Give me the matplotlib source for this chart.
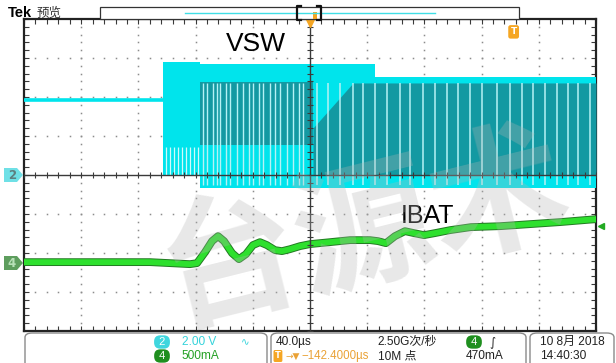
import numpy as np
import matplotlib
matplotlib.use("Agg")
import matplotlib.pyplot as plt
import matplotlib.patheffects as pe
from matplotlib.patches import FancyBboxPatch, Polygon, Rectangle

W, H = 616, 363

# ---- data (time in us, 40 us/div) ----
# CH2 VSW: 2.00 V/div, ground on the centre line
vsw_idle_t = [-200.0, -102.8]
vsw_idle_v = [3.85, 3.85]
env_t = [-102.8, -76.9, 45.5, 200.0]          # switching envelope
env_hi = [5.79, 5.69, 5.03, 5.03]
env_lo = [0.0, -0.67, -0.67, -0.67]
band_a_top = 1.44                             # soft-start, lower striped part
dark_a_t = [-76.9, 2.1]                       # dense overlap area (darker)
dark_a_top = [4.75, 4.75]
dark_a_bot = [1.54, 1.54]
dark_b_t = [2.1, 30.1, 200.0]
dark_b_top = [2.41, 4.72, 4.72]
dark_b_bot = [0.0, 0.0, 0.0]
gaps_a = [-100.7, -97.9, -95.1, -92.3, -89.5, -86.7, -83.9, -81.1, -78.3]
gaps_b = [-74.5, -72.0, -67.8, -65.0, -62.9, -58.5, -55.9, -51.0, -46.9,
          -43.0, -39.9, -36.0, -32.9, -28.0, -24.5, -21.0, -16.1, -11.9,
          -8.0, -4.9]
gaps_c = [4.9, 12.6, 21.0, 30.1, 37.1, 45.5, 53.8, 62.9, 69.9, 79.0, 87.4,
          95.8, 103.5, 111.9, 120.3, 130.8, 139.9, 148.3, 156.0, 164.4,
          172.8, 180.4, 187.4, 195.8]

# CH4 IBAT: 500 mA/div, ground marker 2.26 div below centre
ch4_offset = -2.26
ibat_t = [-200.0, -146.9, -111.9, -97.9, -83.9, -79.0, -73.4, -68.5, -64.3,
          -60.1, -54.5, -49.7, -44.8, -39.9, -35.0, -30.1, -24.5, -19.6,
          -14.0, -7.0, 0.0, 14.0, 28.0, 42.0, 47.6, 53.1, 59.4, 66.4, 72.7,
          79.7, 87.4, 97.9, 112.6, 132.9, 153.8, 174.8, 200.0]
ibat_ma = [13, 13, 13, 0, -13, 0, 141, 282, 346, 282, 128, 51, 115, 231,
           269, 231, 167, 154, 179, 218, 244, 269, 295, 295, 282, 256, 346,
           410, 385, 359, 385, 423, 462, 474, 500, 526, 564]
trig_ma = 470
trig_pos_us = 142.4

CYAN = "#00e4ec"
TEAL = "#1399a2"
GREEN = "#2ee02e"
ORANGE = "#f5a623"


def fx(x):
    return x / W


def fy(y):
    return 1 - y / H


fig = plt.figure(figsize=(W / 100, H / 100), dpi=100)
fig.patch.set_facecolor("white")
ax = fig.add_axes([fx(24), fy(331), 572 / W, 312 / H])
ax.set_facecolor("white")
ax.set_xlim(-200, 200)
ax.set_ylim(-4, 4)

# graticule: dotted grid, centre cross with ticks, border ticks
xmin = np.arange(-200, 201, 8)
ymin = np.arange(-4, 4.01, 0.2)
for xv in range(-160, 200, 40):
    if xv != 0:
        ax.plot([xv] * len(ymin), ymin, ls="none", marker="s", ms=1.1, mew=0,
                color="#8c8c8c", zorder=1)
for yv in range(-3, 4):
    if yv != 0:
        ax.plot(xmin, [yv] * len(xmin), ls="none", marker="s", ms=1.1, mew=0,
                color="#8c8c8c", zorder=1)
ax.axvline(0, color="#3a3a3a", lw=1.0, zorder=6)
ax.axhline(0, color="#3a3a3a", lw=1.0, zorder=6)
ax.plot(xmin, np.zeros_like(xmin), ls="none", marker="|", ms=5, mew=0.8,
        color="#3a3a3a", zorder=6)
ax.plot(np.zeros_like(ymin), ymin, ls="none", marker="_", ms=5, mew=0.8,
        color="#3a3a3a", zorder=6)
ax.set_xticks(np.arange(-200, 201, 40))
ax.set_xticks(xmin, minor=True)
ax.set_yticks(np.arange(-4, 5, 1))
ax.set_yticks(ymin, minor=True)
ax.tick_params(which="both", direction="in", length=3.5, width=0.8,
               color="#3a3a3a", top=True, right=True, labelbottom=False,
               labelleft=False)
for s in ax.spines.values():
    s.set_linewidth(1.6)
    s.set_color("#222222")

# VSW
ax.plot(vsw_idle_t, np.array(vsw_idle_v) / 2, color=CYAN, lw=2.6,
        solid_capstyle="butt", zorder=3)
ax.fill_between(env_t, np.array(env_hi) / 2, np.array(env_lo) / 2,
                step="post", color=CYAN, lw=0, zorder=3)
ax.fill_between(dark_a_t, np.array(dark_a_top) / 2, np.array(dark_a_bot) / 2,
                color=TEAL, lw=0, zorder=3)
ax.fill_between(dark_b_t, np.array(dark_b_top) / 2, np.array(dark_b_bot) / 2,
                color=TEAL, lw=0, zorder=3)
ax.vlines(gaps_a, 0.0, band_a_top / 2, color="#d0fafb", lw=0.9, zorder=4)
ax.vlines(gaps_b, -0.5 / 2, 4.7 / 2, color="#b5f2f5", lw=1.0, zorder=4)
ax.vlines(gaps_c, -0.5 / 2, 4.7 / 2, color="#b5f2f5", lw=1.1, zorder=4)

# IBAT
ax.plot(ibat_t, np.array(ibat_ma) / 500 + ch4_offset, color=GREEN, lw=4.2,
        zorder=5, solid_joinstyle="round",
        path_effects=[pe.Stroke(linewidth=5.6, foreground="#237a23"),
                      pe.Normal()])

ax.text(-38, (175 - 43.5) / 39, "VSW", fontsize=19, family="Liberation Sans",
        ha="center", va="center", zorder=7)
ax.text(82.4, (175 - 216) / 39, "IBAT", fontsize=18, family="Liberation Sans",
        ha="center", va="center", zorder=7)

# trigger markers
ax.plot(0, 3.93, marker="v", ms=7, color=ORANGE, clip_on=False, zorder=8)
ax.text(trig_pos_us, 3.67, "T", fontsize=6.5, color="white", weight="bold",
        ha="center", va="center", zorder=8,
        bbox=dict(boxstyle="round,pad=0.25", fc=ORANGE, ec="none"))
ax.plot(203.5, trig_ma / 500 + ch4_offset, marker="<", ms=4.5,
        color="#22aa22", clip_on=False, zorder=8)

# watermark
fig.text(fx(365), fy(232), "台源术", fontsize=100, color="#b4b4b4", alpha=0.3,
         family=["Noto Sans CJK SC"], weight="bold", rotation=14,
         ha="center", va="center", zorder=10)

# channel markers on the left
fig.patches.append(Polygon([(fx(4), fy(168)), (fx(17), fy(168)),
                            (fx(23), fy(175)), (fx(17), fy(182)),
                            (fx(4), fy(182))], closed=True,
                           transform=fig.transFigure, fc="#6fe0e6", ec="none"))
fig.text(fx(12), fy(175.5), "2", fontsize=8.5, color="#5d7f80",
         weight="bold", ha="center", va="center")
fig.patches.append(Polygon([(fx(4), fy(256)), (fx(17), fy(256)),
                            (fx(23), fy(263)), (fx(17), fy(270)),
                            (fx(4), fy(270))], closed=True,
                           transform=fig.transFigure, fc="#5e9e5e", ec="none"))
fig.text(fx(12), fy(263.5), "4", fontsize=8.5, color="#b8e0b8",
         weight="bold", ha="center", va="center")

# top bar
fig.text(fx(8), fy(13), "Tek", fontsize=10.5, weight="bold",
         family="Liberation Sans", va="center")
fig.text(fx(37), fy(13), "预览", fontsize=9, color="#333333",
         family=["Noto Sans CJK SC"], va="center")
fig.patches.append(Rectangle((fx(100), fy(19)), (519 - 100) / W, 12 / H,
                             transform=fig.transFigure, fc="white",
                             ec="#333333", lw=0.9))
fig.lines.append(plt.Line2D([fx(185), fx(435)], [fy(13), fy(13)],
                            transform=fig.transFigure, color="#40dfe6",
                            lw=1.0))
for xb, d in [(297, 4), (321, -4)]:
    fig.lines.append(plt.Line2D([fx(xb + d), fx(xb), fx(xb), fx(xb + d)],
                                [fy(6), fy(6), fy(20), fy(20)],
                                transform=fig.transFigure, color="#111111",
                                lw=1.6))
fig.patches.append(Rectangle((fx(313), fy(19)), 4 / W, 7 / H,
                             transform=fig.transFigure, fc=ORANGE, ec="none"))

# bottom status boxes
for x0, x1 in [(25, 267), (271, 526), (530, 614)]:
    fig.patches.append(FancyBboxPatch((fx(x0), fy(368)), (x1 - x0) / W,
                                      35 / H,
                                      boxstyle="round,pad=0,rounding_size=0.012",
                                      transform=fig.transFigure, fc="white",
                                      ec="#8a8a8a", lw=1.0))

TXT = ["Liberation Sans", "Noto Sans CJK SC", "DejaVu Sans"]
FS = 8.6
r1, r2 = 342, 356


def badge(x, y, s, fc):
    fig.text(fx(x), fy(y), s, fontsize=8, color="white", ha="center",
             va="center", family=TXT,
             bbox=dict(boxstyle="round,pad=0.15,rounding_size=0.55", fc=fc,
                       ec="none"))


badge(162, r1, " 2 ", "#3fd6de")
badge(162, r2, " 4 ", "#1f8f1f")
fig.text(fx(182), fy(r1), "2.00 V", fontsize=FS, color="#35d3db",
         family=TXT, va="center")
fig.text(fx(182), fy(r2), "500mA", fontsize=FS, color="#24a024",
         family=TXT, va="center")
fig.text(fx(241), fy(r1), "∿", fontsize=7.5, color="#35d3db",
         family=["DejaVu Sans"], va="center")

fig.text(fx(276), fy(r1), "40.0µs", fontsize=FS, color="#222222",
         family=TXT, va="center")
fig.text(fx(275), fy(r2), "T", fontsize=6, color="white", weight="bold",
         va="center",
         bbox=dict(boxstyle="round,pad=0.18", fc=ORANGE, ec="none"))
fig.text(fx(285), fy(r2), "→▼", fontsize=6.5, color="#eaa236",
         family=["DejaVu Sans"], va="center")
fig.text(fx(301), fy(r2), "−142.4000µs", fontsize=FS - 0.3, color="#eaa236",
         family=TXT, va="center")
fig.text(fx(377), fy(r1), "2.50G次/秒", fontsize=FS, color="#222222",
         family=TXT, va="center")
fig.text(fx(378), fy(r2), "10M 点", fontsize=FS, color="#222222",
         family=TXT, va="center")
badge(474, r1, " 4 ", "#1f8f1f")
fig.text(fx(489), fy(r1), "∫", fontsize=8.5, color="#222222",
         family=["DejaVu Sans"], va="center")
fig.text(fx(466), fy(r2), "470mA", fontsize=FS, color="#222222",
         family=TXT, va="center")

fig.text(fx(540), fy(r1), "10 8月 2018", fontsize=FS, color="#222222",
         family=TXT, va="center")
fig.text(fx(540), fy(r2), "14:40:30", fontsize=FS, color="#222222",
         family=TXT, va="center")

fig.savefig("out.png", dpi=100)
